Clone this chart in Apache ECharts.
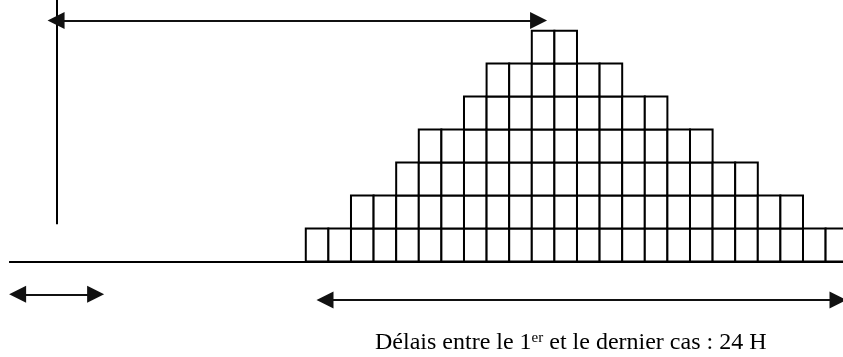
<!DOCTYPE html>
<html lang="fr">

<head>
  <meta charset="UTF-8">
  <title>Courbe épidémique</title>
  <style>
    html, body { margin: 0; padding: 0; background: #fff; }
    #chart { width: 843px; height: 357px; }
  </style>
</head>

<body>
  <div id="chart"></div>

  <script src="https://cdn.jsdelivr.net/npm/echarts@6/dist/echarts.min.js"></script>
  <script>
    // cas par heure (1 carré = 1 cas), heure 0 = 1er cas
    var hours = [0, 1, 2, 3, 4, 5, 6, 7, 8, 9, 10, 11, 12, 13, 14, 15, 16, 17, 18, 19, 20, 21, 22, 23];
    var cases = [1, 1, 2, 2, 3, 4, 4, 5, 6, 6, 7, 7, 6, 6, 5, 5, 4, 4, 3, 3, 2, 2, 1, 1];

    // repères (en heures / en nombre de cas)
    var exposure = -11;             // trait vertical : exposition
    var peakArrow = [-11.05, 10.3]; // flèche du haut : exposition -> pic
    var shortArrow = [-12.75, -9.3];
    var spanArrow = [0.85, 23.55];  // délai entre le 1er et le dernier cas
    var label = 'Délais entre le 1{sup|er} et le dernier cas : 24 H';

    var cells = [];
    for (var i = 0; i < hours.length; i++) {
      for (var j = 0; j < cases[i]; j++) {
        cells.push([hours[i], j]);
      }
    }

    var chart = echarts.init(document.getElementById('chart'));

    var option = {
      animation: false,
      backgroundColor: '#fff',
      title: {
        text: label,
        left: 370,
        top: 326,
        textStyle: {
          fontFamily: 'Liberation Serif',
          fontSize: 24,
          fontWeight: 'normal',
          color: '#000',
          rich: {
            sup: {
              fontFamily: 'Liberation Serif',
              fontSize: 15,
              verticalAlign: 'top',
              color: '#000'
            }
          }
        }
      },
      grid: { left: 0, right: 0, top: 0, bottom: 0 },
      xAxis: {
        type: 'value',
        min: -13.53,
        max: 23.77,
        show: false,
        splitLine: { show: false }
      },
      yAxis: {
        type: 'value',
        min: -2.9,
        max: 7.93,
        show: false,
        splitLine: { show: false }
      },
      series: [
        {
          type: 'custom',
          data: cells,
          renderItem: function (params, api) {
            var p0 = api.coord([api.value(0), api.value(1) + 1]);
            var p1 = api.coord([api.value(0) + 1, api.value(1)]);
            return {
              type: 'rect',
              shape: { x: p0[0], y: p0[1], width: p1[0] - p0[0], height: p1[1] - p0[1] },
              style: { fill: '#fff', stroke: '#000', lineWidth: 2 }
            };
          },
          z: 2
        },
        {
          type: 'lines',
          coordinateSystem: 'cartesian2d',
          polyline: false,
          silent: true,
          z: 3,
          lineStyle: { color: '#000', width: 2, opacity: 1 },
          symbol: 'none',
          data: [
            // axe du temps
            { coords: [[-13.13, 0], [23.77, 0]] },
            // exposition
            { coords: [[exposure, 7.93], [exposure, 1.13]] }
          ]
        },
        {
          type: 'lines',
          coordinateSystem: 'cartesian2d',
          silent: true,
          z: 4,
          symbol: ['triangle', 'triangle'],
          symbolSize: [17, 17],
          lineStyle: { color: '#111', width: 2, opacity: 1 },
          data: [
            { coords: [[peakArrow[0], 7.31], [peakArrow[1], 7.31]] },
            { coords: [[shortArrow[0], -1.0], [shortArrow[1], -1.0]] },
            { coords: [[spanArrow[0], -1.17], [spanArrow[1], -1.17]] }
          ]
        }
      ]
    };

    chart.setOption(option);
  </script>
</body>

</html>
